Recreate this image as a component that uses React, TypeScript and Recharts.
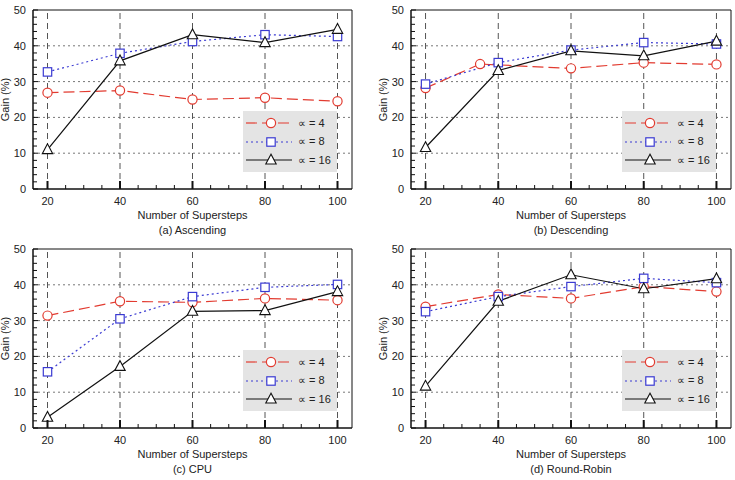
import { LineChart, Line, XAxis, YAxis, ReferenceLine, ReferenceArea, Legend } from 'recharts';

const FONT = '"Liberation Sans", Arial, Helvetica, sans-serif';

// x positions (number of supersteps)
const steps = [20, 40, 60, 80, 100];
const descendingA4Steps = [20, 35, 60, 80, 100];

// gain (%) per alpha
const ascendingA4 = [26.9, 27.5, 25.0, 25.5, 24.5];
const ascendingA8 = [32.7, 37.9, 41.2, 43.1, 42.6];
const ascendingA16 = [11.0, 35.8, 43.1, 40.9, 44.6];

const descendingA4 = [28.2, 34.9, 33.7, 35.3, 34.8];
const descendingA8 = [29.3, 35.3, 38.8, 40.9, 40.5];
const descendingA16 = [11.6, 33.1, 38.6, 37.2, 41.3];

const cpuA4 = [31.4, 35.4, 35.1, 36.2, 35.7];
const cpuA8 = [15.7, 30.5, 36.7, 39.3, 40.1];
const cpuA16 = [3.0, 17.2, 32.6, 32.8, 38.1];

const roundRobinA4 = [33.9, 37.3, 36.2, 39.5, 38.1];
const roundRobinA8 = [32.5, 36.7, 39.5, 41.8, 40.6];
const roundRobinA16 = [11.7, 35.4, 42.8, 38.9, 41.7];

const xTicks = [20, 25, 30, 35, 40, 45, 50, 55, 60, 65, 70, 75, 80, 85, 90, 95, 100];
const yTicks = [0, 2, 4, 6, 8, 10, 12, 14, 16, 18, 20, 22, 24, 26, 28, 30, 32, 34, 36, 38, 40, 42, 44, 46, 48, 50];
const xGrid = [20, 40, 60, 80, 100];
const yGrid = [10, 20, 30, 40];

const seriesNames = ['∝ = 4', '∝ = 8', '∝ = 16'];

const STYLES: Record<string, { color: string; dash?: string; marker: string }> = {
  '∝ = 4': { color: '#e23b30', dash: '11 5', marker: 'circle' },
  '∝ = 8': { color: '#3a3ad2', dash: '2 3', marker: 'square' },
  '∝ = 16': { color: '#111111', marker: 'triangle' },
};

function Marker({ kind, cx, cy, color }: { kind: string; cx: number; cy: number; color: string }) {
  if (kind === 'circle') {
    return <circle cx={cx} cy={cy} r={4.6} fill="#fff" stroke={color} strokeWidth={1.2} />;
  }
  if (kind === 'square') {
    return <rect x={cx - 4.2} y={cy - 4.2} width={8.4} height={8.4} fill="#fff" stroke={color} strokeWidth={1.2} />;
  }
  return (
    <polygon
      points={`${cx},${cy - 5.8} ${cx - 5.2},${cy + 4} ${cx + 5.2},${cy + 4}`}
      fill="#fff"
      stroke={color}
      strokeWidth={1.1}
    />
  );
}

function XTick(props: any) {
  const { x, y, payload } = props;
  const major = payload.value % 20 === 0;
  return (
    <g>
      <line x1={x} x2={x} y1={y} y2={y - (major ? 8 : 4)} stroke="#111" strokeWidth={major ? 2 : 1} />
      {major && (
        <text x={x} y={y + 16} textAnchor="middle" fontSize={11} fill="#222" style={{ fontFamily: FONT }}>
          {payload.value}
        </text>
      )}
    </g>
  );
}

function YTick(props: any) {
  const { x, y, payload } = props;
  const major = payload.value % 10 === 0;
  return (
    <g>
      <line x1={x} x2={x + (major ? 5 : 4)} y1={y} y2={y} stroke="#111" strokeWidth={1} />
      {major && (
        <text x={x - 7} y={y + 4} textAnchor="end" fontSize={11} fill="#222" style={{ fontFamily: FONT }}>
          {payload.value}
        </text>
      )}
    </g>
  );
}

function XCaption({ viewBox, title }: any) {
  const cx = viewBox.x + viewBox.width / 2;
  return (
    <g style={{ fontFamily: FONT }} fontSize={11} fill="#222">
      <text x={cx} y={viewBox.y + 30} textAnchor="middle">Number of Supersteps</text>
      <text x={cx} y={viewBox.y + 45} textAnchor="middle">{title}</text>
    </g>
  );
}

function YCaption({ viewBox }: any) {
  const cx = viewBox.x + 5;
  const cy = viewBox.y + viewBox.height / 2;
  return (
    <text
      x={cx}
      y={cy}
      dy="0.35em"
      textAnchor="middle"
      transform={`rotate(-90, ${cx}, ${cy})`}
      fontSize={11}
      fill="#222"
      style={{ fontFamily: FONT }}
    >
      Gain (%)
    </text>
  );
}

function LegendBox({ payload }: any) {
  // keep the series order (4, 8, 16) rather than the legend's sorted order
  const items = [...(payload || [])].sort(
    (a: any, b: any) => seriesNames.indexOf(a.value) - seriesNames.indexOf(b.value)
  );
  return (
    <div style={{ background: '#e4e4e4', width: 94, height: 61, boxSizing: 'border-box', paddingTop: 3 }}>
      {items.map((entry: any) => {
        const s = STYLES[entry.value];
        return (
          <div key={entry.value} style={{ display: 'flex', alignItems: 'center', height: 18.5 }}>
            <svg width={52} height={14} style={{ display: 'block' }}>
              <line x1={3} x2={49} y1={7} y2={7} stroke={s.color} strokeWidth={1.2} strokeDasharray={s.dash} />
              <Marker kind={s.marker} cx={28} cy={7} color={s.color} />
            </svg>
            <span style={{ fontFamily: FONT, fontSize: 11, color: '#222', marginLeft: 3 }}>{entry.value}</span>
          </div>
        );
      })}
    </div>
  );
}

type Series = { name: string; xs: number[]; ys: number[] };

function Panel({
  title,
  left,
  top,
  width,
  marginRight,
  series,
}: {
  title: string;
  left: number;
  top: number;
  width: number;
  marginRight: number;
  series: Series[];
}) {
  const plotWidth = width - 33 - marginRight;
  return (
    <div style={{ position: 'absolute', left, top }}>
      <LineChart width={width} height={240} margin={{ top: 10, right: marginRight, bottom: 0, left: 0 }}>
        <XAxis
          type="number"
          dataKey="x"
          domain={[16, 104]}
          ticks={xTicks}
          interval={0}
          allowDataOverflow
          height={51}
          tickSize={0}
          tickMargin={0}
          tick={<XTick />}
          stroke="#111"
          label={<XCaption title={title} />}
        />
        <YAxis
          type="number"
          domain={[0, 50]}
          ticks={yTicks}
          interval={0}
          width={33}
          tickSize={0}
          tickMargin={0}
          tick={<YTick />}
          stroke="#111"
          label={<YCaption />}
        />
        <ReferenceArea x1={16} x2={104} y1={0} y2={50} fill="none" stroke="#111" strokeWidth={1} />
        {yGrid.map((v) => (
          <ReferenceLine key={'h' + v} y={v} stroke="#777" strokeDasharray="2 3" strokeWidth={1} />
        ))}
        {xGrid.map((v) => (
          <ReferenceLine key={'v' + v} x={v} stroke="#555" strokeDasharray="6 4" strokeWidth={1} />
        ))}
        {series.map((s) => {
          const st = STYLES[s.name];
          return (
            <Line
              key={s.name}
              name={s.name}
              data={s.xs.map((x, i) => ({ x, y: s.ys[i] }))}
              dataKey="y"
              type="linear"
              stroke={st.color}
              strokeWidth={1.2}
              strokeDasharray={st.dash}
              isAnimationActive={false}
              dot={(p: any) => (
                <g key={s.name + p.index}>
                  <Marker kind={st.marker} cx={p.cx} cy={p.cy} color={st.color} />
                </g>
              )}
              activeDot={false}
            />
          );
        })}
        <Legend
          layout="vertical"
          align="center"
          verticalAlign="middle"
          content={<LegendBox />}
          wrapperStyle={{ left: 33 + plotWidth - 109, top: 111, width: 94, height: 61 }}
        />
      </LineChart>
    </div>
  );
}

const mk = (a4x: number[], a4: number[], a8: number[], a16: number[]): Series[] => [
  { name: seriesNames[0], xs: a4x, ys: a4 },
  { name: seriesNames[1], xs: steps, ys: a8 },
  { name: seriesNames[2], xs: steps, ys: a16 },
];

export default function App() {
  return (
    <div style={{ position: 'absolute', left: 0, top: 0, width: 735, height: 480, background: '#fff' }}>
      <Panel title="(a) Ascending" left={0} top={0} width={365} marginRight={13} series={mk(steps, ascendingA4, ascendingA8, ascendingA16)} />
      <Panel
        title="(b) Descending"
        left={378}
        top={0}
        width={357}
        marginRight={4}
        series={mk(descendingA4Steps, descendingA4, descendingA8, descendingA16)}
      />
      <Panel title="(c) CPU" left={0} top={239} width={365} marginRight={13} series={mk(steps, cpuA4, cpuA8, cpuA16)} />
      <Panel
        title="(d) Round-Robin"
        left={378}
        top={239}
        width={357}
        marginRight={4}
        series={mk(steps, roundRobinA4, roundRobinA8, roundRobinA16)}
      />
    </div>
  );
}
